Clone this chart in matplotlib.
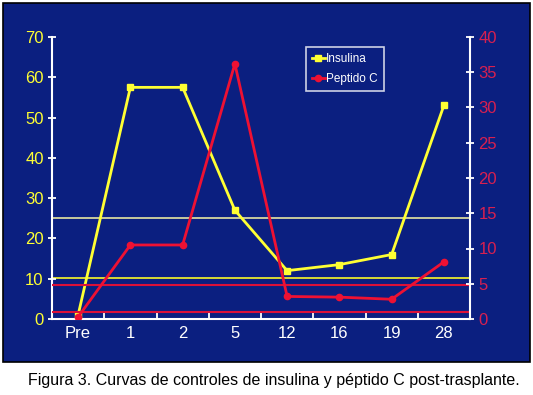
import numpy as np
import matplotlib
matplotlib.use("Agg")
from matplotlib import pyplot as plt
from matplotlib.patches import Rectangle

# Data
categories = ["Pre", "1", "2", "5", "12", "16", "19", "28"]
insulina = [1, 57.5, 57.5, 27, 12, 13.5, 16, 53]
peptido_c = [0.3, 10.5, 10.5, 36.2, 3.2, 3.1, 2.8, 8.1]
insulina_limits = [10.2, 25]
peptido_limits = [1.0, 4.8]

bg = "#0b1f80"
yellow = "#ffff33"
red = "#ee1133"
label_font = ["Liberation Sans", "DejaVu Sans"]

fig = plt.figure(figsize=(5.33, 3.95), dpi=100)
fig.patch.set_facecolor("white")
fig.patches.append(Rectangle((3 / 533, 1 - 362 / 395), 527 / 533, 359 / 395,
                             transform=fig.transFigure, facecolor=bg,
                             edgecolor="black", linewidth=1.2, zorder=-10))

ax = fig.add_axes([52 / 533, 1 - 319 / 395, 418 / 533, 282 / 395])
ax.set_facecolor("none")
ax2 = ax.twinx()

x = np.arange(len(categories))

# reference range lines
ax.axhline(insulina_limits[0], color="#e8e830", lw=1.3, zorder=1)
ax.axhline(insulina_limits[1], color="#d6d6a0", lw=1.3, zorder=1)
for v in peptido_limits:
    ax2.axhline(v, color="#dc1038", lw=1.5, zorder=1)

l1, = ax.plot(x, insulina, color=yellow, lw=2, marker="s", ms=5,
              label="Insulina", zorder=3)
l2, = ax2.plot(x, peptido_c, color=red, lw=2, marker="o", ms=4.5,
               label="Peptido C", zorder=3)

ax.set_xlim(-0.5, len(categories) - 0.5)
ax.set_ylim(0, 70)
ax2.set_ylim(0, 40)
ax.set_yticks(np.arange(0, 71, 10))
ax2.set_yticks(np.arange(0, 41, 5))
ax.set_xticks(x)
ax.set_xticklabels(categories)
ax.set_xticks(np.arange(-0.5, len(categories), 1), minor=True)

for a in (ax, ax2):
    for s in a.spines.values():
        s.set_visible(False)
ax.spines["left"].set_visible(True)
ax.spines["bottom"].set_visible(True)
ax2.spines["right"].set_visible(True)
for s in (ax.spines["left"], ax.spines["bottom"], ax2.spines["right"]):
    s.set_color("white")
    s.set_linewidth(1.5)

ax.tick_params(axis="y", direction="inout", length=6, width=1.3, color="white",
               labelcolor=yellow, labelsize=12, pad=3)
ax2.tick_params(axis="y", direction="inout", length=6, width=1.3, color="white",
                labelcolor="#d82050", labelsize=12, pad=3)
ax.tick_params(axis="x", which="major", length=0, labelcolor="white",
               labelsize=12, pad=5)
ax.tick_params(axis="x", which="minor", direction="in", length=4,
               width=1.3, color="white")
for lab in ax.get_yticklabels() + ax2.get_yticklabels() + ax.get_xticklabels():
    lab.set_family(label_font)

leg = ax2.legend(handles=[l1, l2], loc="upper left",
                 bbox_to_anchor=((306 - 52) / 418, (319 - 47) / 282),
                 borderaxespad=0, frameon=True, fancybox=False,
                 handlelength=1.1, handletextpad=0.1, borderpad=0.5,
                 labelspacing=0.7, prop={"family": "Liberation Sans",
                                          "size": 8.5})
leg.get_frame().set_facecolor(bg)
leg.get_frame().set_edgecolor("white")
leg.get_frame().set_linewidth(1.2)
for t in leg.get_texts():
    t.set_color("white")

fig.text(274 / 533, 1 - 381 / 395,
         "Figura 3. Curvas de controles de insulina y péptido C post-trasplante.",
         ha="center", va="center", fontsize=11.5,
         family=label_font, color="black")

fig.savefig("out.png", dpi=100)
